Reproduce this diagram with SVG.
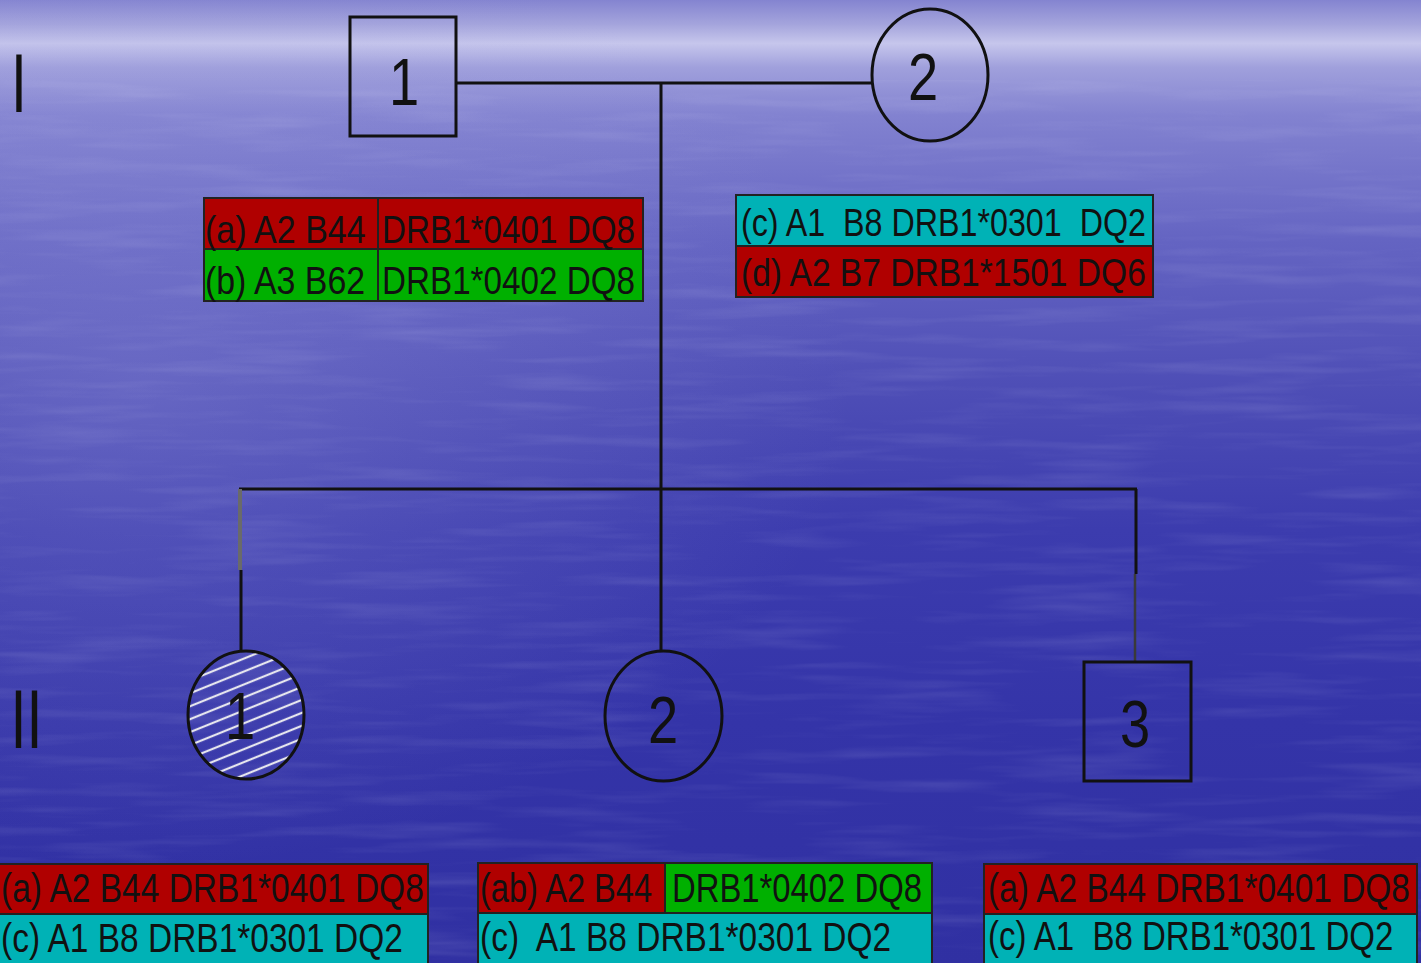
<svg xmlns="http://www.w3.org/2000/svg" width="1421" height="963" viewBox="0 0 1421 963">
<defs>
<linearGradient id="bg" x1="0" y1="0" x2="0" y2="1">
<stop offset="0" stop-color="#8484d0"/>
<stop offset="0.025" stop-color="#a4a4dc"/>
<stop offset="0.045" stop-color="#c6c6ec"/>
<stop offset="0.07" stop-color="#a0a0dc"/>
<stop offset="0.12" stop-color="#8282d0"/>
<stop offset="0.25" stop-color="#6464c2"/>
<stop offset="0.4" stop-color="#4e4eb6"/>
<stop offset="0.55" stop-color="#3c3cae"/>
<stop offset="0.75" stop-color="#3434a8"/>
<stop offset="1" stop-color="#3030a2"/>
</linearGradient>
<radialGradient id="glow" cx="0.1" cy="0.4" r="0.5">
<stop offset="0" stop-color="#a0a0e0" stop-opacity="0.3"/>
<stop offset="1" stop-color="#a0a0e0" stop-opacity="0"/>
</radialGradient>
<filter id="water" x="0" y="0" width="1" height="1">
<feTurbulence type="fractalNoise" baseFrequency="0.006 0.08" numOctaves="3" seed="4"/>
<feColorMatrix values="0 0 0 0 0.85  0 0 0 0 0.85  0 0 0 0 1  0.9 0 0 0 -0.42"/>
</filter>
<pattern id="hatch" patternUnits="userSpaceOnUse" width="12" height="12" patternTransform="rotate(-22)">
<line x1="0" y1="6" x2="12" y2="6" stroke="#e6e6ee" stroke-width="2.2"/>
</pattern>
<clipPath id="c21"><ellipse cx="246" cy="715" rx="58" ry="64"/></clipPath>
<style>
.ln{stroke:#111;stroke-width:3;fill:none}
.sym{stroke:#111;stroke-width:3;fill:none}
.num{font-family:"Liberation Sans",Arial,sans-serif;font-size:67px;fill:#111;text-anchor:middle}
.gen{font-family:"Liberation Sans",Arial,sans-serif;font-size:84px;fill:#111}
.t{font-family:"Liberation Sans",Arial,sans-serif;font-size:39px;fill:#111}
.tb{font-family:"Liberation Sans",Arial,sans-serif;font-size:40px;fill:#111}
.red{fill:#b00000;stroke:#222;stroke-width:2}
.grn{fill:#00b000;stroke:#222;stroke-width:2}
.cyn{fill:#00b2b6;stroke:#222;stroke-width:2}
</style>
</defs>
<rect x="0" y="0" width="1421" height="963" fill="url(#bg)"/>
<rect x="0" y="0" width="1421" height="963" fill="url(#glow)"/>
<rect x="0" y="80" width="1421" height="883" filter="url(#water)" opacity="0.25"/>

<g id="generation-labels">
<text class="gen" transform="translate(11,112) scale(0.68,1)">I</text>
<text class="gen" transform="translate(10.5,748) scale(0.685,1)">II</text>
</g>

<g id="connectors">
<line class="ln" x1="456" y1="83" x2="872" y2="83"/>
<line class="ln" x1="661" y1="83" x2="661" y2="651"/>
<line class="ln" x1="239" y1="489" x2="1137" y2="489"/>
<line x1="240" y1="489" x2="240" y2="570" stroke="#6a6a6a" stroke-width="4"/>
<line class="ln" x1="241" y1="570" x2="241" y2="651"/>
<line class="ln" x1="1136" y1="489" x2="1136" y2="574"/>
<line x1="1135" y1="574" x2="1135" y2="662" stroke="#3a3a3a" stroke-width="2.5"/>
</g>

<g id="node-I-1">
<rect class="sym" x="350" y="17" width="106" height="119"/>
<text class="num" transform="translate(404,105) scale(0.81,1)">1</text>
</g>

<g id="node-I-2">
<ellipse class="sym" cx="930" cy="75" rx="58" ry="66"/>
<text class="num" transform="translate(923,100) scale(0.81,1)">2</text>
</g>

<g id="node-II-1">
<rect x="186" y="649" width="122" height="132" fill="url(#hatch)" clip-path="url(#c21)"/>
<ellipse class="sym" cx="246" cy="715" rx="58" ry="64"/>
<text class="num" transform="translate(240,739) scale(0.81,1)">1</text>
</g>

<g id="node-II-2">
<ellipse class="sym" cx="663.5" cy="716" rx="58.5" ry="65"/>
<text class="num" transform="translate(663,743) scale(0.81,1)">2</text>
</g>

<g id="node-II-3">
<rect class="sym" x="1084" y="662" width="107" height="119"/>
<text class="num" transform="translate(1135,747) scale(0.81,1)">3</text>
</g>

<g id="haplotypes-I-1">
<rect class="red" x="204" y="198" width="439" height="51"/>
<rect class="grn" x="204" y="249" width="439" height="52"/>
<line x1="378" y1="198" x2="378" y2="301" stroke="#222" stroke-width="2"/>
<text class="t" transform="translate(205,243) scale(0.872,1)">(a) A2 B44</text>
<text class="t" transform="translate(382,243) scale(0.852,1)">DRB1*0401 DQ8</text>
<text class="t" transform="translate(205,294) scale(0.869,1)">(b) A3 B62</text>
<text class="t" transform="translate(382,294) scale(0.852,1)">DRB1*0402 DQ8</text>
</g>

<g id="haplotypes-I-2">
<rect class="cyn" x="736" y="195" width="417" height="51"/>
<rect class="red" x="736" y="246" width="417" height="51"/>
<text class="t" transform="translate(741,236) scale(0.827,1)" xml:space="preserve">(c) A1  B8 DRB1*0301  DQ2</text>
<text class="t" transform="translate(741,286) scale(0.861,1)">(d) A2 B7 DRB1*1501 DQ6</text>
</g>

<g id="haplotypes-II-1">
<rect class="red" x="-2" y="864" width="430" height="50"/>
<rect class="cyn" x="-2" y="914" width="430" height="52"/>
<text class="tb" transform="translate(1,902) scale(0.838,1)">(a) A2 B44 DRB1*0401 DQ8</text>
<text class="tb" transform="translate(1,952) scale(0.837,1)">(c) A1 B8 DRB1*0301 DQ2</text>
</g>

<g id="haplotypes-II-2">
<rect class="red" x="478" y="863" width="187" height="50"/>
<rect class="grn" x="665" y="863" width="267" height="50"/>
<rect class="cyn" x="478" y="913" width="454" height="53"/>
<text class="tb" transform="translate(480,902) scale(0.815,1)">(ab) A2 B44</text>
<text class="tb" transform="translate(672,902) scale(0.821,1)">DRB1*0402 DQ8</text>
<text class="tb" transform="translate(480,951) scale(0.837,1)" xml:space="preserve">(c)  A1 B8 DRB1*0301 DQ2</text>
</g>

<g id="haplotypes-II-3">
<rect class="red" x="984" y="864" width="433" height="50"/>
<rect class="cyn" x="984" y="914" width="433" height="52"/>
<text class="tb" transform="translate(988,902) scale(0.836,1)">(a) A2 B44 DRB1*0401 DQ8</text>
<text class="tb" transform="translate(988,950) scale(0.825,1)" xml:space="preserve">(c) A1  B8 DRB1*0301 DQ2</text>
</g>
</svg>
